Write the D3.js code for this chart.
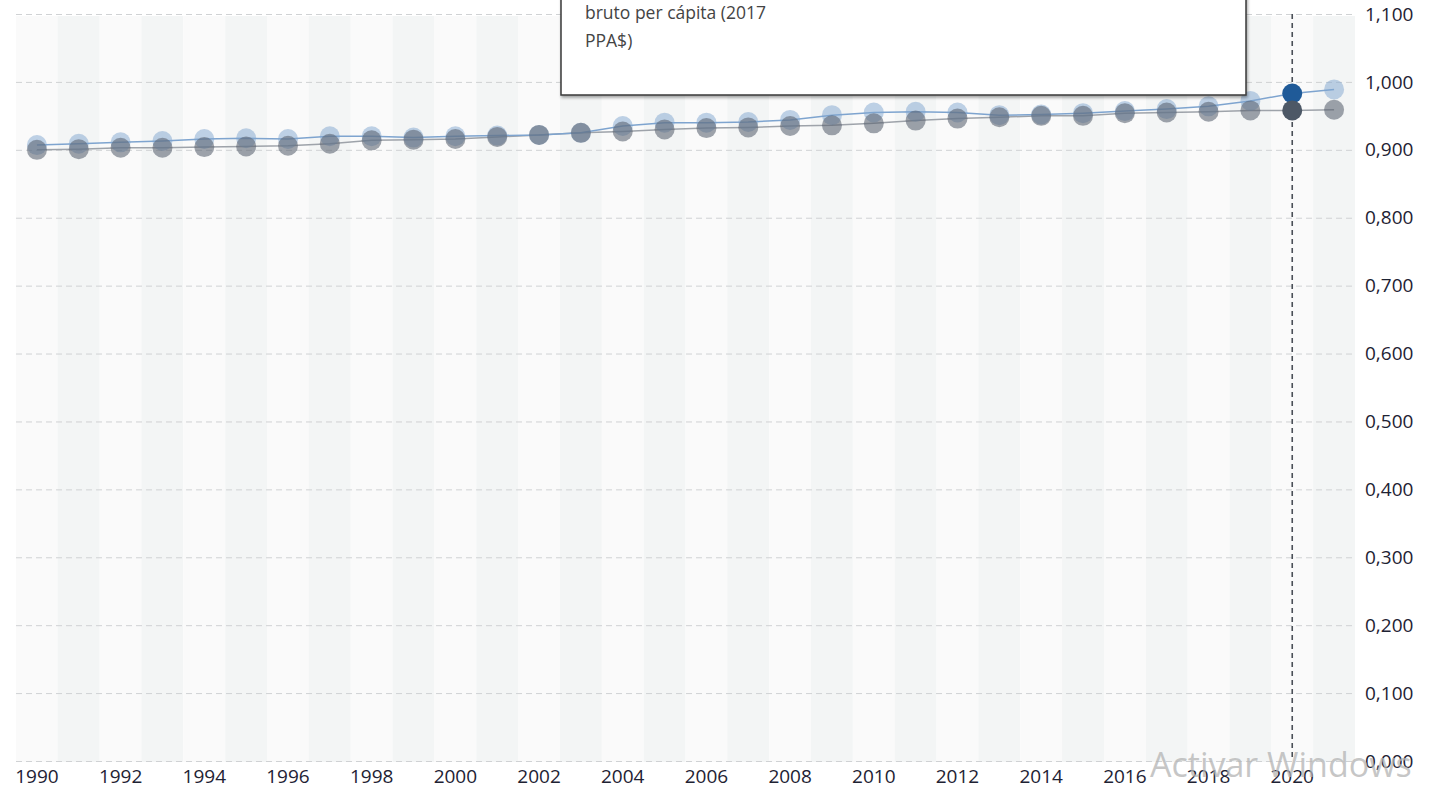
<!DOCTYPE html>
<html>
<head>
<meta charset="utf-8">
<script src="https://cdn.jsdelivr.net/npm/d3@7"></script>
<style>
  html, body { margin: 0; padding: 0; background: #ffffff; }
  svg { display: block; }
</style>
</head>
<body>
<svg id="chart" width="1432" height="790"></svg>
<script>
// ---------- DATA ----------
const years = [1990,1991,1992,1993,1994,1995,1996,1997,1998,1999,2000,2001,2002,2003,2004,2005,
               2006,2007,2008,2009,2010,2011,2012,2013,2014,2015,2016,2017,2018,2019,2020,2021];
const seriesBlue = [0.907,0.909,0.911,0.913,0.916,0.917,0.916,0.920,0.920,0.918,0.920,0.921,0.922,0.925,0.935,0.940,
                    0.940,0.941,0.944,0.951,0.955,0.956,0.955,0.951,0.952,0.954,0.957,0.960,0.964,0.972,0.983,0.989];
const seriesGray = [0.900,0.901,0.903,0.903,0.904,0.905,0.906,0.909,0.914,0.915,0.916,0.919,0.922,0.925,0.927,0.930,
                    0.932,0.933,0.935,0.936,0.939,0.943,0.946,0.948,0.950,0.950,0.954,0.955,0.956,0.958,0.958,0.959];
const yTicks = [0,0.1,0.2,0.3,0.4,0.5,0.6,0.7,0.8,0.9,1.0,1.1];
const xTickYears = [1990,1992,1994,1996,1998,2000,2002,2004,2006,2008,2010,2012,2014,2016,2018,2020];
const highlightYear = 2020;
const tooltipLines = ["bruto per cápita (2017", "PPA$)"];
const watermark = "Activar Windows";

// ---------- LAYOUT ----------
const pL = 16, pR = 1355, pT = 14, pB = 761;
const svg = d3.select("#chart");
const font = "'Open Sans', sans-serif";

const x = d3.scaleBand().domain(years).range([pL, pR]).padding(0);
const bw = x.bandwidth();
const cx = d => x(d) + bw / 2;
const y = d3.scaleLinear().domain([0, 1.1]).range([pB, pT]);

const loc = d3.formatLocale({decimal: ",", thousands: ".", grouping: [3], currency: ["", "$"]});
const fmt = loc.format(".3f");

// background bands
svg.append("g").selectAll("rect").data(years).join("rect")
  .attr("x", d => x(d)).attr("y", pT + 2)
  .attr("width", bw).attr("height", pB - pT - 1)
  .attr("fill", (d, i) => i % 2 === 1 ? "#f3f5f5" : "#fafafa");

// gridlines
const grid = svg.append("g").attr("transform", `translate(${pL},0)`)
  .call(d3.axisLeft(y).tickValues(yTicks).tickSize(-(pR - pL)).tickFormat(""));
grid.select(".domain").remove();
grid.selectAll("line").attr("stroke", "#d0d2d4").attr("stroke-dasharray", "6,4").attr("stroke-width", 1);

// y axis labels on the right
const yAx = svg.append("g").attr("transform", `translate(${pR},0)`)
  .call(d3.axisRight(y).tickValues(yTicks).tickSize(0).tickPadding(10).tickFormat(fmt));
yAx.select(".domain").remove();
yAx.selectAll("text").attr("font-family", font).attr("font-size", 19).attr("fill", "#1e2233");

// x axis labels
const xAx = svg.append("g").attr("transform", `translate(0,${pB})`)
  .call(d3.axisBottom(x).tickValues(xTickYears).tickSize(0).tickPadding(9));
xAx.select(".domain").remove();
xAx.selectAll("text").attr("font-family", font).attr("font-size", 19).attr("fill", "#1e2233");

// highlight dashed vertical line
svg.append("line")
  .attr("x1", cx(highlightYear)).attr("x2", cx(highlightYear))
  .attr("y1", pT).attr("y2", pB)
  .attr("stroke", "#4a4f57").attr("stroke-width", 1.6).attr("stroke-dasharray", "5,4");

// lines
const lineGen = d3.line().x((d, i) => cx(years[i])).y(d => y(d));
svg.append("path").datum(seriesGray).attr("d", lineGen)
  .attr("fill", "none").attr("stroke", "#9ea3aa").attr("stroke-width", 1.5);
svg.append("path").datum(seriesBlue).attr("d", lineGen)
  .attr("fill", "none").attr("stroke", "#7ea4cf").attr("stroke-width", 1.5);

// points
const r = 10;
svg.append("g").selectAll("circle").data(seriesBlue).join("circle")
  .attr("cx", (d, i) => cx(years[i])).attr("cy", d => y(d)).attr("r", r)
  .attr("fill", (d, i) => years[i] === highlightYear ? "#1f5a98" : "#80a6cf")
  .attr("fill-opacity", (d, i) => years[i] === highlightYear ? 1 : 0.5);
svg.append("g").selectAll("circle").data(seriesGray).join("circle")
  .attr("cx", (d, i) => cx(years[i])).attr("cy", d => y(d)).attr("r", r)
  .attr("fill", (d, i) => years[i] === highlightYear ? "#4d5866" : "#5a6370")
  .attr("fill-opacity", (d, i) => years[i] === highlightYear ? 1 : 0.58);

// tooltip box
const defs = svg.append("defs");
const f = defs.append("filter").attr("id", "sh").attr("x", "-5%").attr("y", "-5%").attr("width", "110%").attr("height", "120%");
f.append("feDropShadow").attr("dx", 1).attr("dy", 2).attr("stdDeviation", 1.5).attr("flood-color", "#000").attr("flood-opacity", 0.35);
svg.append("rect").attr("x", 561).attr("y", -20).attr("width", 685).attr("height", 115)
  .attr("fill", "#ffffff").attr("stroke", "#3a3a3a").attr("stroke-width", 1.5).attr("filter", "url(#sh)");
svg.append("g").selectAll("text").data(tooltipLines).join("text")
  .attr("x", 585).attr("y", (d, i) => 19 + i * 28)
  .attr("font-family", font).attr("font-size", 17.5).attr("fill", "#444")
  .text(d => d);

// watermark
svg.append("text").attr("x", 1150).attr("y", 777)
  .attr("font-family", "'Open Sans', sans-serif").attr("font-size", 34)
  .attr("fill", "#b4b4b4").attr("fill-opacity", 0.75).text(watermark);
</script>
</body>
</html>
